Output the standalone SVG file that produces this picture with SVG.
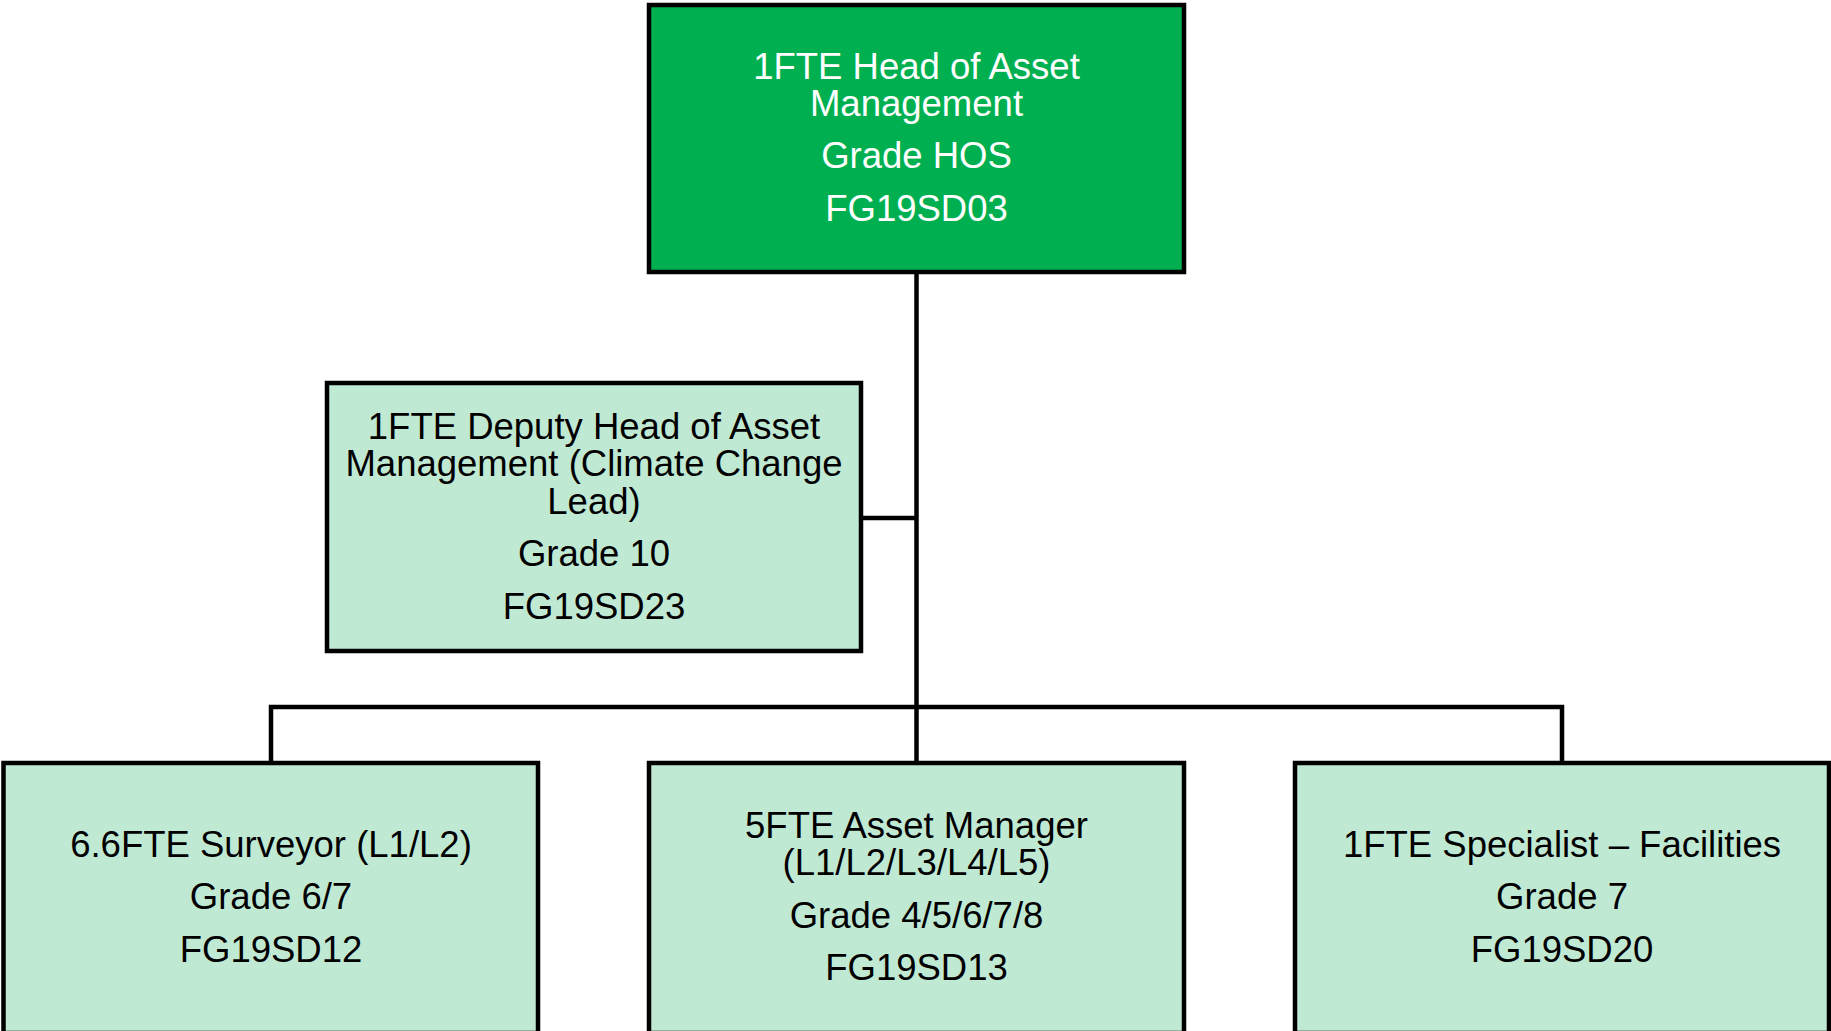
<svg xmlns="http://www.w3.org/2000/svg" width="1831" height="1031" viewBox="0 0 1831 1031">
  <style>
    .box { stroke: #000; stroke-width: 4.5; }
    .head { fill: #00B050; }
    .staff { fill: #C0E9D4; }
    .lbl { font-family: "Liberation Sans", Arial, sans-serif; font-size: 36.5px; text-anchor: middle; fill: #000; }
    .lbl.light { fill: #fff; }
    .wire { fill: none; stroke: #000; stroke-width: 4.5; }
  </style>
  <rect width="1831" height="1031" fill="#fff"/>

  <!-- reporting lines -->
  <g id="connectors">
    <path class="wire" d="M916.5 272 V707"/>
    <path class="wire" d="M861 518 H916.5"/>
    <path class="wire" d="M271 763 V707 H1562 V763"/>
    <path class="wire" d="M916.5 707 V763"/>
  </g>

  <g id="head-of-asset-management">
    <rect class="box head" x="649" y="5" width="535" height="267"/>
    <text class="lbl light" x="916.5" y="78.5">1FTE Head of Asset</text>
    <text class="lbl light" x="916.5" y="116">Management</text>
    <text class="lbl light" x="916.5" y="168">Grade HOS</text>
    <text class="lbl light" x="916.5" y="221">FG19SD03</text>
  </g>

  <g id="deputy-head">
    <rect class="box staff" x="327" y="383" width="534" height="268"/>
    <text class="lbl" x="594" y="438.5">1FTE Deputy Head of Asset</text>
    <text class="lbl" x="594" y="476">Management (Climate Change</text>
    <text class="lbl" x="594" y="513.5">Lead)</text>
    <text class="lbl" x="594" y="566">Grade 10</text>
    <text class="lbl" x="594" y="619">FG19SD23</text>
  </g>

  <g id="surveyor">
    <rect class="box staff" x="3.5" y="763" width="534.5" height="270"/>
    <text class="lbl" x="271" y="856.5">6.6FTE Surveyor (L1/L2)</text>
    <text class="lbl" x="271" y="909">Grade 6/7</text>
    <text class="lbl" x="271" y="962">FG19SD12</text>
  </g>

  <g id="asset-manager">
    <rect class="box staff" x="649" y="763" width="535" height="270"/>
    <text class="lbl" x="916.5" y="837.5">5FTE Asset Manager</text>
    <text class="lbl" x="916.5" y="875">(L1/L2/L3/L4/L5)</text>
    <text class="lbl" x="916.5" y="928">Grade 4/5/6/7/8</text>
    <text class="lbl" x="916.5" y="980">FG19SD13</text>
  </g>

  <g id="specialist-facilities">
    <rect class="box staff" x="1295" y="763" width="534" height="270"/>
    <text class="lbl" x="1562" y="856.5">1FTE Specialist – Facilities</text>
    <text class="lbl" x="1562" y="909">Grade 7</text>
    <text class="lbl" x="1562" y="962">FG19SD20</text>
  </g>
</svg>
